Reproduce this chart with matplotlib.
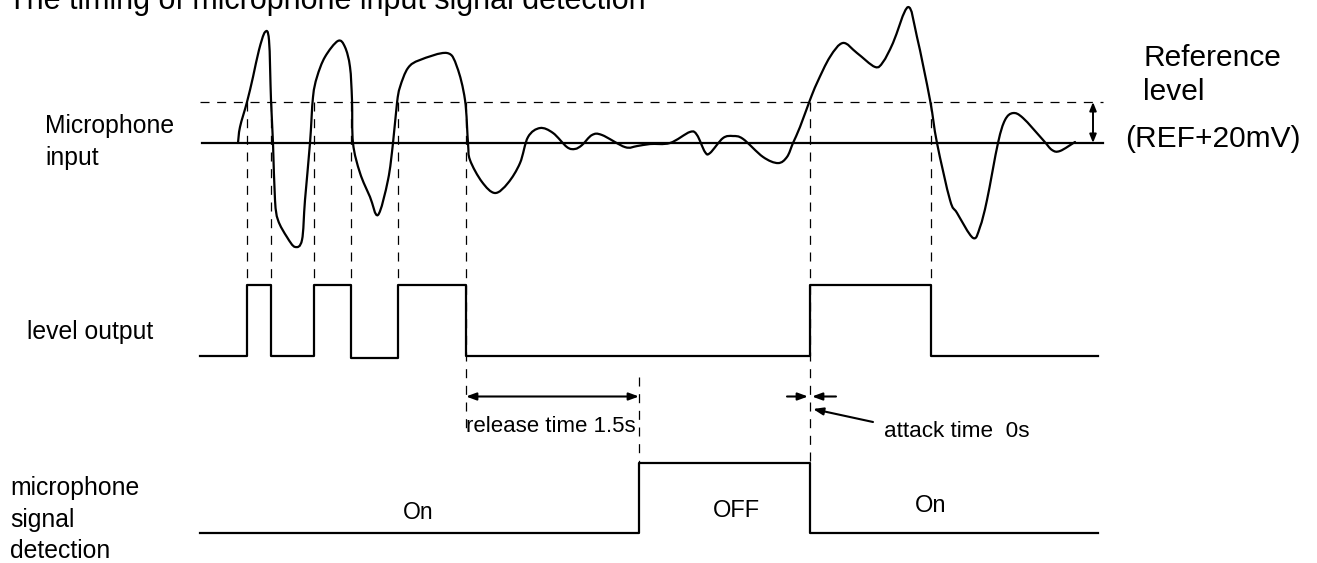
import matplotlib
matplotlib.use("Agg")
import matplotlib.pyplot as plt
from matplotlib.path import Path
from matplotlib.patches import PathPatch

plt.rcParams['font.family'] = ['Liberation Sans', 'DejaVu Sans']
plt.rcParams['lines.scale_dashes'] = False

# ---------------- data ----------------
# microphone input waveform: time (arbitrary units) and amplitude above REF (mV)
wave_t = [238, 240, 247, 253, 259, 265, 269, 271, 273, 275, 278, 287, 295, 302, 305,
          310, 313, 317, 325, 338, 345, 350, 352, 353, 360, 370, 378, 388, 393, 397,
          400, 408, 420, 447, 457, 465, 468, 470, 482, 495, 508, 520, 528, 540, 553,
          567, 575, 582, 592, 602, 625, 637, 650, 670, 690, 697, 705, 710, 723, 733,
          743, 763, 778, 787, 793, 800, 810, 817, 830, 843, 857, 875, 883, 893, 908,
          917, 930, 937, 950, 957, 973, 980, 987, 998, 1005, 1013, 1023, 1043, 1052,
          1060, 1075]
wave_mv = [0, 7.8, 20, 32.2, 45.4, 54.1, 50.2, 21, 0, -27.8, -37.6, -45.9, -50.7, -47.3, -27.8,
           0, 22.4, 32.2, 42, 49.8, 46.8, 37.1, 21, 0, -14.6, -26.3, -35.1, -18, 0, 19.5,
           27.3, 36.6, 40.5, 43.9, 37.1, 21, 0, -8.3, -19, -24.4, -19.5, -9.8, 2.9, 7.3, 4.9,
           -2, -2.9, -1, 3.9, 3.9, -2, -1.5, -0.5, 0, 5.4, 3.9, -4.4, -4.9, 2.4, 3.4,
           2, -6.8, -9.8, -6.8, 0, 7.8, 21, 29.3, 42, 48.8, 43.9, 37.1, 39.5, 48.8, 66.3,
           51.7, 21, 0, -27.8, -34.1, -46.3, -41, -27.8, 0, 11.2, 14.6, 12.2, 1.5, -3.4,
           -3.9, 0.5]
ref_offset_mv = 20

# level output (comparator) transitions
level_t = [200, 247, 271, 314, 351, 398, 466, 810, 931, 1098]
level_v = [0, 1, 0, 1, -0.03, 1, 0, 1, 0, 0]

# microphone signal detection (high = OFF)
det_t = [200, 639, 810, 1098]
det_v = [0, 1, 0, 0]
release_end = 639
attack_t = 810

row_labels = ["Microphone\ninput", "level output", "microphone\nsignal\ndetection"]
state_labels = ["On", "OFF", "On"]

# ---------------- layout helpers ----------------
W, H = 1317, 563
wave_base, px_per_mv = 143, 41 / 20
lvl_low, lvl_h = 356, 71.5
det_low, det_h = 533, 70

def wy(v):
    return wave_base - v * px_per_mv

fig = plt.figure(figsize=(W / 100, H / 100), dpi=100)
ax = fig.add_axes([0, 0, 1, 1])
ax.set_xlim(0, W)
ax.set_ylim(H, 0)
ax.axis('off')

k = 'black'
dash = (0, (6.5, 5.5))
LW = 1.6

# REF baseline and threshold
ax.plot([202, 1103], [wy(0), wy(0)], color=k, lw=LW)
ax.plot([200, 1103], [wy(ref_offset_mv)] * 2, color=k, lw=0.9, linestyle=dash)

# waveform drawn as a smooth curve through the read points (Catmull-Rom as Bezier)
pts = list(zip(wave_t, [wy(v) for v in wave_mv]))
verts = [pts[0]]
codes = [Path.MOVETO]
n = len(pts)
tension = 1 / 6
for i in range(n - 1):
    p0 = pts[i - 1] if i > 0 else pts[i]
    p1 = pts[i]
    p2 = pts[i + 1]
    p3 = pts[i + 2] if i + 2 < n else pts[i + 1]
    c1 = (p1[0] + (p2[0] - p0[0]) * tension, p1[1] + (p2[1] - p0[1]) * tension)
    c2 = (p2[0] - (p3[0] - p1[0]) * tension, p2[1] - (p3[1] - p1[1]) * tension)
    verts += [c1, c2, p2]
    codes += [Path.CURVE4] * 3
ax.add_patch(PathPatch(Path(verts, codes), facecolor='none', edgecolor=k, lw=LW,
                       joinstyle='round', capstyle='round'))

# level output
ax.step(level_t, [lvl_low - v * lvl_h for v in level_v], where='post', color=k, lw=LW)
# detection
ax.step(det_t, [det_low - v * det_h for v in det_v], where='post', color=k, lw=LW)

# dashed guide lines
thr = wy(ref_offset_mv)
for t in level_t[1:-1]:
    bottom = lvl_low - lvl_h
    if t == level_t[6]:
        bottom = 433
    if t == attack_t:
        bottom = det_low - det_h
    ax.plot([t, t], [thr, bottom], color=k, lw=0.9, linestyle=dash)
ax.plot([release_end, release_end], [377, det_low - det_h], color=k, lw=0.9, linestyle=dash)

# reference level double arrow
ax.annotate('', xy=(1093, wy(ref_offset_mv)), xytext=(1093, wy(0)),
            arrowprops=dict(arrowstyle='<|-|>,head_length=0.5,head_width=0.2', color=k, lw=1.4,
                            shrinkA=0, shrinkB=0))

# release arrow
ax.annotate('', xy=(release_end, 396.5), xytext=(level_t[6], 396.5),
            arrowprops=dict(arrowstyle='<|-|>,head_length=0.6,head_width=0.22', color=k, lw=1.5,
                            shrinkA=0, shrinkB=0))
# attack arrows
ax.annotate('', xy=(attack_t - 2, 396.5), xytext=(787, 396.5),
            arrowprops=dict(arrowstyle='-|>,head_length=0.6,head_width=0.22', color=k, lw=1.5,
                            shrinkA=0, shrinkB=0))
ax.annotate('', xy=(attack_t + 2, 396.5), xytext=(836, 396.5),
            arrowprops=dict(arrowstyle='-|>,head_length=0.6,head_width=0.22', color=k, lw=1.5,
                            shrinkA=0, shrinkB=0))
ax.annotate('', xy=(813, 409), xytext=(873, 422),
            arrowprops=dict(arrowstyle='-|>,head_length=0.6,head_width=0.22', color=k, lw=1.5,
                            shrinkA=0, shrinkB=0))

# texts
ax.text(8, 9, "The timing of microphone input signal detection", fontsize=22, va='baseline', ha='left')
ax.text(45, 133, "Microphone", fontsize=17.8, va='baseline')
ax.text(45, 165, "input", fontsize=17.8, va='baseline')
ax.text(27, 339, row_labels[1], fontsize=17.8, va='baseline')
for i, s in enumerate(row_labels[2].split('\n')):
    ax.text(10, 495 + i * 31.5, s, fontsize=17.8, va='baseline')
ax.text(466, 432, "release time 1.5s", fontsize=16, va='baseline')
ax.text(884, 437, "attack time  0s", fontsize=16.2, va='baseline')
ax.text(418, 519, state_labels[0], fontsize=16.5, va='baseline', ha='center')
ax.text(736, 517, state_labels[1], fontsize=17, va='baseline', ha='center')
ax.text(931, 512, state_labels[2], fontsize=17, va='baseline', ha='center')
ax.text(1143, 66, "Reference", fontsize=21.5, va='baseline')
ax.text(1143, 100, "level", fontsize=21.5, va='baseline')
ax.text(1125, 147, "(REF+20mV)", fontsize=21.5, va='baseline')

fig.savefig("out.png", dpi=100)
